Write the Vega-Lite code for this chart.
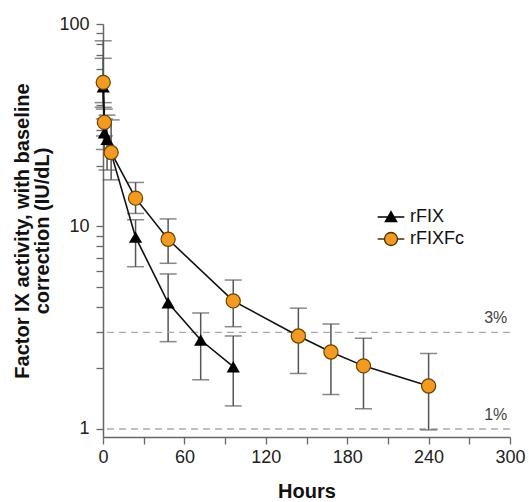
{
  "$schema": "https://vega.github.io/schema/vega-lite/v6.json",
  "width": 407,
  "height": 413,
  "autosize": {"type": "none"},
  "padding": {"left": 103, "top": 24, "right": 19, "bottom": 65},
  "config": {
    "font": "Liberation Sans",
    "view": {"stroke": null},
    "axis": {"grid": false}
  },
  "data": {
    "values": [
      {"series": "rFIX", "t": 0.17, "v": 49, "lo": 38.8, "hi": 67.7},
      {"series": "rFIX", "t": 1, "v": 29, "lo": 24, "hi": 34},
      {"series": "rFIX", "t": 3, "v": 27, "lo": 19, "hi": 35.5},
      {"series": "rFIX", "t": 24, "v": 8.86, "lo": 6.33, "hi": 10.8},
      {"series": "rFIX", "t": 48, "v": 4.2, "lo": 2.7, "hi": 5.83},
      {"series": "rFIX", "t": 72, "v": 2.75, "lo": 1.75, "hi": 3.74},
      {"series": "rFIX", "t": 96, "v": 2.03, "lo": 1.3, "hi": 2.88},
      {"series": "rFIXFc", "t": 0.17, "v": 51.5, "lo": 40.9, "hi": 82.6},
      {"series": "rFIXFc", "t": 1, "v": 32.7, "lo": 28, "hi": 38},
      {"series": "rFIXFc", "t": 6, "v": 23.2, "lo": 17.0, "hi": 33.6},
      {"series": "rFIXFc", "t": 24, "v": 13.8, "lo": 11.6, "hi": 16.5},
      {"series": "rFIXFc", "t": 48, "v": 8.65, "lo": 6.58, "hi": 10.9},
      {"series": "rFIXFc", "t": 96, "v": 4.29, "lo": 3.2, "hi": 5.44},
      {"series": "rFIXFc", "t": 144, "v": 2.88, "lo": 1.88, "hi": 3.95},
      {"series": "rFIXFc", "t": 168, "v": 2.4, "lo": 1.48, "hi": 3.3},
      {"series": "rFIXFc", "t": 192, "v": 2.05, "lo": 1.26, "hi": 2.81},
      {"series": "rFIXFc", "t": 240, "v": 1.63, "lo": 0.99, "hi": 2.36}
    ]
  },
  "layer": [
    {
      "mark": {"type": "rule", "color": "#555555", "strokeWidth": 1.5},
      "encoding": {
        "x": {
          "field": "t", "type": "quantitative",
          "scale": {"domain": [0, 300], "nice": false},
          "axis": {
            "title": "Hours", "titleFontSize": 20, "titleFontWeight": "bold", "titleColor": "#111111", "titlePadding": 15,
            "values": [0, 30, 60, 90, 120, 150, 180, 210, 240, 270, 300],
            "labelExpr": "datum.value % 60 == 0 ? datum.label : ''",
            "labelFontSize": 18, "labelColor": "#222222", "labelPadding": 4, "labelFlush": false, "labelOverlap": false,
            "tickSize": 7, "tickColor": "#666666", "tickWidth": 1.3, "domainColor": "#666666", "domainWidth": 1.5
          }
        },
        "y": {
          "field": "lo", "type": "quantitative",
          "scale": {"type": "log", "domain": [0.913, 100], "nice": false},
          "axis": {
            "title": ["Factor IX activity, with baseline", "correction (IU/dL)"],
            "titleFontSize": 20, "titleFontWeight": "bold", "titleColor": "#111111", "titleLineHeight": 20, "titlePadding": 6,
            "values": [1, 2, 3, 4, 5, 6, 7, 8, 9, 10, 20, 30, 40, 50, 60, 70, 80, 90, 100],
            "labelExpr": "(datum.value == 1 || datum.value == 10 || datum.value == 100) ? '' + datum.value : ''",
            "labelFontSize": 18, "labelColor": "#222222", "labelPadding": 7, "labelFlush": false, "labelOverlap": false,
            "tickSize": 7, "tickColor": "#666666", "tickWidth": 1.3, "domainColor": "#666666", "domainWidth": 1.5
          }
        },
        "y2": {"field": "hi"}
      }
    },
    {
      "data": {"values": [{"v": 3, "label": "3%"}, {"v": 1, "label": "1%"}]},
      "mark": {"type": "rule", "color": "#aaaaaa", "strokeWidth": 1.3, "strokeDash": [7, 5]},
      "encoding": {
        "y": {"field": "v", "type": "quantitative", "scale": {"type": "log", "domain": [0.913, 100], "nice": false}}
      }
    },
    {
      "data": {"values": [{"v": 3, "label": "3%"}, {"v": 1, "label": "1%"}]},
      "mark": {"type": "text", "align": "right", "baseline": "alphabetic", "dy": -9, "fontSize": 16, "color": "#444444"},
      "encoding": {
        "x": {"datum": 298, "type": "quantitative", "scale": {"domain": [0, 300], "nice": false}},
        "y": {"field": "v", "type": "quantitative", "scale": {"type": "log", "domain": [0.913, 100], "nice": false}},
        "text": {"field": "label"}
      }
    },
    {
      "mark": {"type": "tick", "orient": "horizontal", "size": 17, "thickness": 1.5, "color": "#555555"},
      "encoding": {
        "x": {"field": "t", "type": "quantitative", "scale": {"domain": [0, 300], "nice": false}},
        "y": {"field": "hi", "type": "quantitative", "scale": {"type": "log", "domain": [0.913, 100], "nice": false}}
      }
    },
    {
      "mark": {"type": "tick", "orient": "horizontal", "size": 17, "thickness": 1.5, "color": "#555555"},
      "encoding": {
        "x": {"field": "t", "type": "quantitative", "scale": {"domain": [0, 300], "nice": false}},
        "y": {"field": "lo", "type": "quantitative", "scale": {"type": "log", "domain": [0.913, 100], "nice": false}}
      }
    },
    {
      "mark": {"type": "line", "color": "#111111", "strokeWidth": 1.6},
      "encoding": {
        "x": {"field": "t", "type": "quantitative", "scale": {"domain": [0, 300], "nice": false}},
        "y": {"field": "v", "type": "quantitative", "scale": {"type": "log", "domain": [0.913, 100], "nice": false}},
        "detail": {"field": "series"}
      }
    },
    {
      "transform": [{"filter": "datum.series == 'rFIX'"}],
      "mark": {"type": "point", "shape": "triangle-up", "size": 175, "filled": true, "opacity": 1},
      "encoding": {
        "x": {"field": "t", "type": "quantitative", "scale": {"domain": [0, 300], "nice": false}},
        "y": {"field": "v", "type": "quantitative", "scale": {"type": "log", "domain": [0.913, 100], "nice": false}},
        "fill": {
          "field": "series", "type": "nominal",
          "scale": {"domain": ["rFIX"], "range": ["#000000"]},
          "legend": {
            "title": null, "orient": "none", "legendX": 279, "legendY": 184, "padding": 0,
            "symbolType": "M-2.05,0H2.05M-0.85,0.7L0.85,0.7L0,-0.8Z",
            "symbolSize": 169, "symbolStrokeColor": "#000000", "symbolStrokeWidth": 1.5,
            "labelFontSize": 18, "labelOffset": 10, "labelColor": "#111111"
          }
        }
      }
    },
    {
      "transform": [{"filter": "datum.series == 'rFIXFc'"}],
      "mark": {"type": "point", "shape": "circle", "size": 200, "filled": true, "opacity": 1, "stroke": "#6b4200", "strokeWidth": 1.2},
      "encoding": {
        "x": {"field": "t", "type": "quantitative", "scale": {"domain": [0, 300], "nice": false}},
        "y": {"field": "v", "type": "quantitative", "scale": {"type": "log", "domain": [0.913, 100], "nice": false}},
        "fill": {
          "field": "series", "type": "nominal",
          "scale": {"domain": ["rFIXFc"], "range": ["#F29A21"]},
          "legend": {
            "title": null, "orient": "none", "legendX": 279, "legendY": 206, "padding": 0,
            "symbolType": "M-2.05,0H-1M1,0H2.05M-1,0A1,1,0,1,1,1,0A1,1,0,1,1,-1,0Z",
            "symbolSize": 169, "symbolStrokeColor": "#4a3000", "symbolStrokeWidth": 1.3,
            "labelFontSize": 18, "labelOffset": 10, "labelColor": "#111111"
          }
        }
      }
    }
  ],
  "resolve": {"scale": {"fill": "independent"}}
}
